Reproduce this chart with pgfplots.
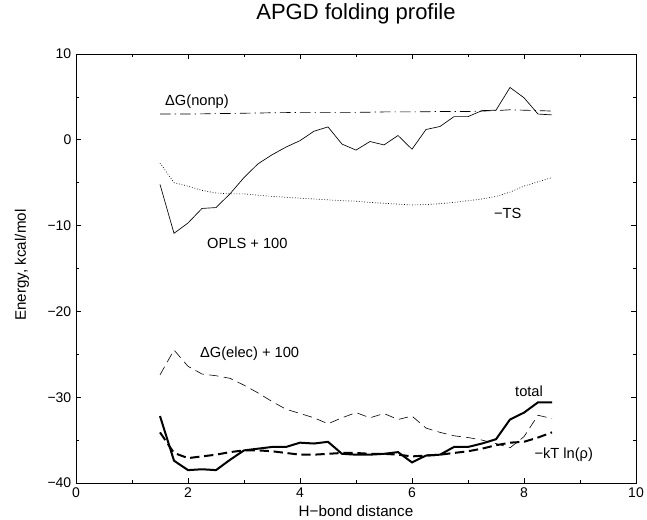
\documentclass[border=0pt]{standalone}
\usepackage{pgfplots}
\pgfplotsset{compat=1.18}
\usepackage{fontspec}
\setmainfont{Liberation Sans}

\pgfplotstableread{
x     opls    nonp   ts      elec    total   kt
1.5   -5.2    3.00   -2.7    -27.4   -32.2   -34.1
1.75  -10.9   3.00   -5.0    -24.5   -37.4   -36.5
2.0   -9.7    3.00   -5.4    -26.4   -38.5   -37.1
2.25  -8.0    3.02   -5.9    -27.3   -38.4   -36.9
2.5   -7.9    3.05   -6.2    -27.5   -38.5   -36.7
2.75  -6.3    3.07   -6.3    -27.8   -37.3   -36.4
3.0   -4.4    3.10   -6.3    -28.6   -36.2   -36.2
3.25  -2.8    3.12   -6.45   -29.5   -36.0   -36.2
3.5   -1.75   3.15   -6.6    -30.5   -35.8   -36.3
3.75  -0.85   3.17   -6.7    -31.4   -35.8   -36.5
4.0   -0.1    3.20   -6.8    -31.9   -35.3   -36.7
4.25  1.0     3.20   -6.9    -32.4   -35.4   -36.7
4.5   1.5     3.20   -7.0    -33.1   -35.2   -36.6
4.75  -0.5    3.20   -7.1    -32.4   -36.6   -36.5
5.0   -1.2    3.20   -7.15   -31.8   -36.7   -36.5
5.25  -0.2    3.22   -7.3    -32.4   -36.7   -36.6
5.5   -0.6    3.25   -7.4    -31.9   -36.6   -36.6
5.75  0.5     3.25   -7.5    -32.6   -36.4   -36.7
6.0   -1.1    3.25   -7.6    -32.2   -37.6   -36.9
6.25  1.2     3.27   -7.55   -33.6   -36.8   -36.8
6.5   1.55    3.30   -7.45   -34.1   -36.7   -36.7
6.75  2.7     3.30   -7.3    -34.5   -35.8   -36.5
7.0   2.7     3.30   -7.1    -34.7   -35.8   -36.3
7.25  3.4     3.35   -6.9    -35.0   -35.4   -36.0
7.5   3.45    3.40   -6.6    -35.4   -34.9   -35.6
7.75  6.1     3.50   -6.1    -35.9   -32.6   -35.3
8.0   4.9     3.45   -5.4    -34.6   -31.8   -35.2
8.25  3.0     3.40   -4.9    -32.1   -30.6   -34.7
8.5   2.9     3.35   -4.4    -32.5   -30.6   -34.1
}\profile

\begin{document}
\begin{tikzpicture}
% 1 px of the reference = 0.75pt, origin at the lower left of the axis box
\useasboundingbox (-57pt,-27.75pt) rectangle (428.25pt,362.25pt);
\begin{axis}[
  at={(0,0)}, anchor=south west,
  scale only axis,
  width=420pt, height=321.75pt,
  xmin=0, xmax=10, ymin=-40, ymax=10,
  xtick={0,2,...,10}, ytick={-40,-30,...,10},
  yticklabels={−40,−30,−20,−10,0,10},
  minor xtick={1,3,...,9}, minor ytick={-35,-25,...,5},
  tick align=inside,
  major tick length=4pt, minor tick length=2.5pt,
  tick style={black, line width=0.5pt},
  axis line style={line width=0.6pt},
  /pgf/number format/assume math mode=true,
  tick label style={font=\fontsize{10.5}{12}\selectfont},
  title={APGD folding profile},
  title style={at={(axis description cs:0.5,1.0746)}, anchor=center,
    font=\fontsize{16.5}{19}\selectfont},
  xlabel={H−bond distance},
  xlabel style={at={(axis description cs:0.5,-0.0780)}, anchor=base,
    font=\fontsize{11.4}{13}\selectfont},
  ylabel={Energy, kcal/mol},
  ylabel style={at={(axis description cs:-0.0964,0.508)}, anchor=center,
    font=\fontsize{11.4}{13}\selectfont},
]
\addplot[black, line width=0.5pt] table[x=x, y=opls] {\profile};
\addplot[black, line width=0.5pt, dash pattern=on 8pt off 3pt on 1pt off 3pt] table[x=x, y=nonp] {\profile};
\addplot[black, line width=0.5pt, dash pattern=on 0.6pt off 1.4pt] table[x=x, y=ts] {\profile};
\addplot[black, line width=0.45pt, dash pattern=on 7pt off 4pt] table[x=x, y=elec] {\profile};
\addplot[black, line width=1.5pt] table[x=x, y=total] {\profile};
\addplot[black, line width=1.5pt, dash pattern=on 7pt off 3.5pt] table[x=x, y=kt] {\profile};

\node[font=\fontsize{11}{13}\selectfont] at (axis cs:2.16,4.4) {ΔG(nonp)};
\node[font=\fontsize{11}{13}\selectfont] at (axis cs:3.06,-12.1) {OPLS + 100};
\node[font=\fontsize{11}{13}\selectfont] at (axis cs:7.71,-8.55) {−TS};
\node[font=\fontsize{11}{13}\selectfont] at (axis cs:3.10,-24.9) {ΔG(elec) + 100};
\node[font=\fontsize{11}{13}\selectfont] at (axis cs:8.09,-29.3) {total};
\node[font=\fontsize{11}{13}\selectfont] at (axis cs:8.71,-36.7) {−kT ln(ρ)};
\end{axis}
\end{tikzpicture}
\end{document}
